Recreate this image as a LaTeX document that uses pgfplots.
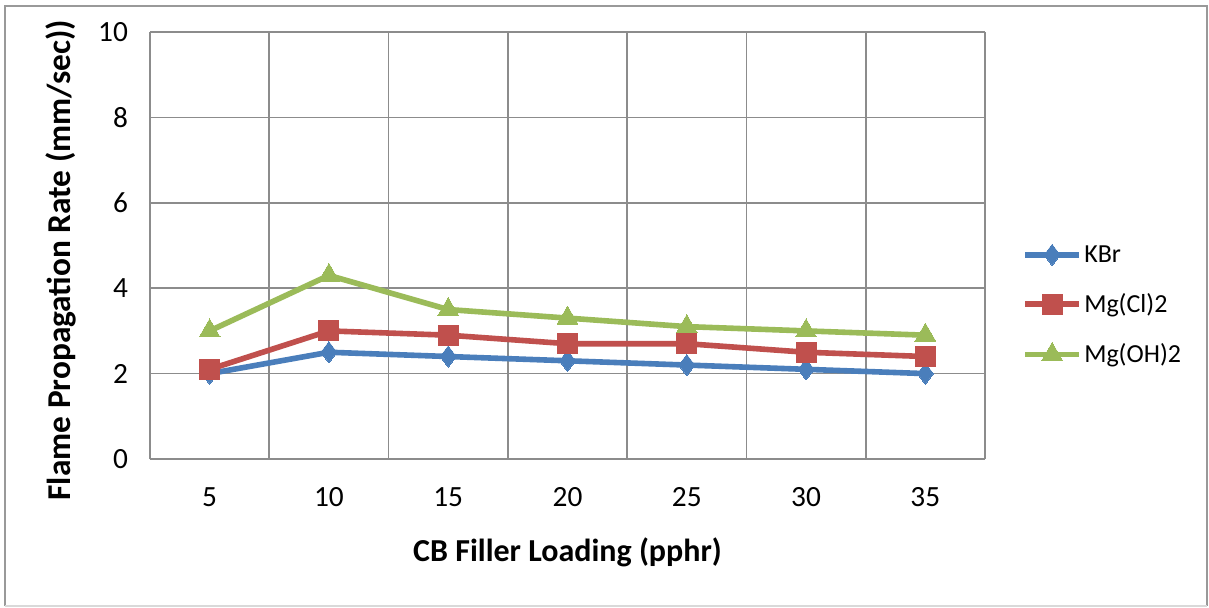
\documentclass[border=0pt]{standalone}
\usepackage{pgfplots}
\pgfplotsset{compat=1.18}
\usepackage{fontspec}
\setmainfont{Carlito}
\definecolor{cblue}{HTML}{4A7EBB}
\definecolor{cred}{HTML}{C0504D}
\definecolor{cgreen}{HTML}{9BBB59}
\definecolor{cgrid}{HTML}{8C8C8C}
\begin{document}
\begin{tikzpicture}[x=0.75pt,y=0.75pt]
\path[fill=white] (0,0) rectangle (1209,607);
\draw[color=gray!80,line width=2pt] (5,1) -- (5,601) -- (1207,601) -- (1207,1);
\draw[color=gray!30,line width=1pt] (5,1) -- (1207,1);
\begin{axis}[
  at={(112.5pt,111pt)}, anchor=south west,
  scale only axis, width=626.25pt, height=320.25pt,
  xmin=-0.5, xmax=6.5, ymin=0, ymax=10,
  xtick={0,...,6}, xticklabels={5,10,15,20,25,30,35},
  minor xtick={-0.5,0.5,...,6.5},
  ytick={0,2,...,10},
  xminorgrids, ymajorgrids,
  major tick length=0pt, minor tick length=0pt,
  grid style={cgrid, line width=1.3pt},
  minor grid style={cgrid, line width=1.3pt},
  axis line style={cgrid, line width=1.3pt},
  axis lines*=left,
  tick label style={font=\fontsize{22}{26}\selectfont, black},
  /pgf/number format/assume math mode=true,
  xticklabel style={yshift=-18pt},
  yticklabel style={xshift=-13pt},
  xlabel={\bfseries CB Filler Loading (pphr)},
  ylabel={\bfseries Flame Propagation Rate (mm/sec))},
  xlabel style={font=\fontsize{24}{28}\selectfont\bfseries, yshift=-16pt},
  ylabel style={font=\fontsize{25}{29}\selectfont\bfseries, yshift=10pt, xshift=-11pt},
  legend style={at={(1.04,0.36)}, anchor=west, draw=none, fill=none,
    font=\fontsize{19.5}{23}\selectfont, row sep=18pt,
    legend cell align=left},
  legend image code/.code={
    \draw[#1, mark repeat=2, mark phase=2] plot coordinates {(0pt,0pt) (20pt,0pt) (40pt,0pt)};},
]
\addplot[cblue, line width=4.2pt, mark=diamond*, mark size=8pt, mark options={line width=0pt, fill=cblue}]
  coordinates {(0,2.0) (1,2.5) (2,2.4) (3,2.3) (4,2.2) (5,2.1) (6,2.0)};
\addlegendentry{KBr}
\addplot[cred, line width=4.2pt, mark=square*, mark size=7.5pt, mark options={line width=0pt, fill=cred}]
  coordinates {(0,2.1) (1,3.0) (2,2.9) (3,2.7) (4,2.7) (5,2.5) (6,2.4)};
\addlegendentry{Mg(Cl)2}
\addplot[cgreen, line width=4.2pt, mark=triangle*, mark size=9pt, mark options={line width=0pt, fill=cgreen}]
  coordinates {(0,3.0) (1,4.3) (2,3.5) (3,3.3) (4,3.1) (5,3.0) (6,2.9)};
\addlegendentry{Mg(OH)2}
\end{axis}
\end{tikzpicture}
\end{document}
